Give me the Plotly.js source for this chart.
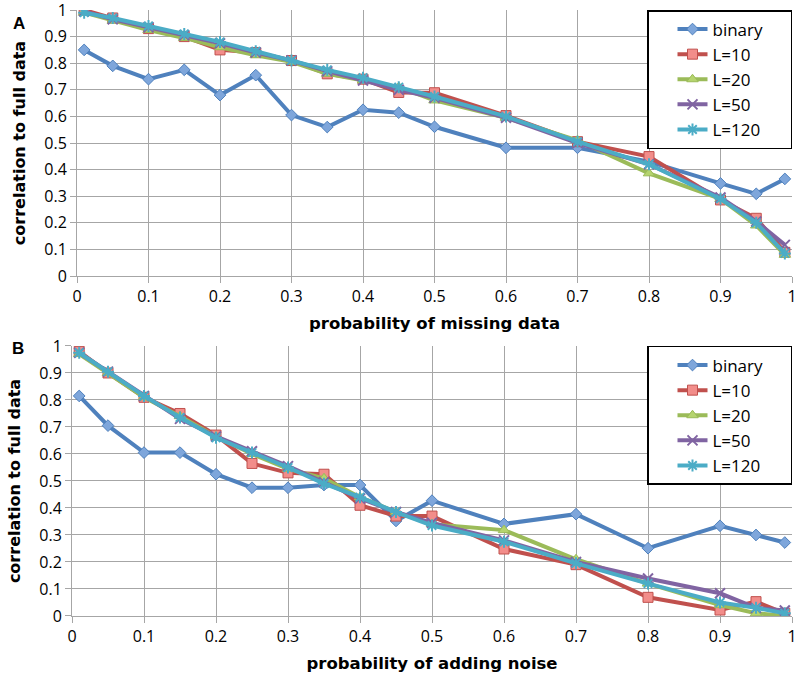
<!DOCTYPE html>
<html><head><meta charset="utf-8">
<script src="https://cdn.plot.ly/plotly-3.0.1.min.js"></script>
<style>body{margin:0;background:#fff}</style>
</head><body><div id="chart" style="width:800px;height:678px"></div>
<script>
const xVals = [0.01,0.05,0.1,0.15,0.2,0.25,0.3,0.35,0.4,0.45,0.5,0.6,0.7,0.8,0.9,0.95,0.99];
const seriesNames = ["binary","L=10","L=20","L=50","L=120"];
// Panel A: missing data
const aBinary = [0.85,0.79,0.74,0.775,0.68,0.755,0.605,0.56,0.625,0.614,0.561,0.482,0.482,0.43,0.348,0.309,0.365];
const aL10    = [1.0,0.97,0.93,0.90,0.85,0.84,0.81,0.76,0.74,0.69,0.689,0.603,0.505,0.449,0.286,0.217,0.089];
const aL20    = [0.99,0.96,0.925,0.895,0.86,0.83,0.805,0.76,0.735,0.71,0.66,0.595,0.51,0.386,0.29,0.19,0.08];
const aL50    = [0.995,0.965,0.935,0.905,0.875,0.84,0.81,0.77,0.735,0.70,0.67,0.595,0.50,0.42,0.295,0.205,0.117];
const aL120   = [0.99,0.97,0.94,0.91,0.88,0.845,0.81,0.775,0.745,0.71,0.675,0.60,0.505,0.42,0.29,0.20,0.085];
// Panel B: adding noise
const bBinary = [0.815,0.705,0.605,0.605,0.525,0.475,0.475,0.485,0.485,0.352,0.427,0.341,0.377,0.251,0.334,0.30,0.272];
const bL10    = [0.98,0.90,0.81,0.75,0.67,0.565,0.53,0.525,0.41,0.37,0.37,0.248,0.19,0.069,0.022,0.053,0.01];
const bL20    = [0.97,0.90,0.81,0.74,0.665,0.60,0.545,0.51,0.44,0.385,0.34,0.318,0.21,0.12,0.04,0.01,0.0];
const bL50    = [0.975,0.905,0.815,0.73,0.665,0.61,0.555,0.495,0.435,0.385,0.345,0.28,0.20,0.139,0.084,0.03,0.02];
const bL120   = [0.975,0.905,0.815,0.735,0.66,0.605,0.55,0.49,0.44,0.385,0.335,0.275,0.195,0.12,0.05,0.03,0.01];
const xTicks = [0,0.1,0.2,0.3,0.4,0.5,0.6,0.7,0.8,0.9,1];
const xTickText = ["0","0.1","0.2","0.3","0.4","0.5","0.6","0.7","0.8","0.9","1"];
const yTicks = [0,0.1,0.2,0.3,0.4,0.5,0.6,0.7,0.8,0.9,1];
const yTickText = ["0","0.1","0.2","0.3","0.4","0.5","0.6","0.7","0.8","0.9","1"];

const styles = [
  {line:'#4F81BD', fill:'#7EA6DB', symbol:'diamond', size:9},
  {line:'#C0504D', fill:'#F28D8A', symbol:'square', size:10},
  {line:'#9BBB59', fill:'#B5D46E', symbol:'triangle-up', size:10},
  {line:'#8064A2', fill:'#8064A2', symbol:'x-thin', size:10},
  {line:'#4BACC6', fill:'#4BACC6', symbol:'asterisk', size:10}
];
const pad = '\u00a0\u00a0\u00a0\u00a0\u00a0';
const panelA = [aBinary,aL10,aL20,aL50,aL120];
const panelB = [bBinary,bL10,bL20,bL50,bL120];
const traces = [];
function addPanel(data, xa, ya, leg){
  data.forEach((ys,i)=>{
    const s = styles[i];
    traces.push({
      x:xVals, y:ys, xaxis:xa, yaxis:ya, legend:leg, legendgroup:leg+i,
      type:'scatter', mode:'lines+markers', name:seriesNames[i]+pad,
      line:{color:s.line, width:4},
      marker:{symbol:s.symbol, size:s.size, color:s.fill, line:{color:s.line, width:(i>=3?2:1)}}
    });
  });
}
addPanel(panelA,'x','y','legend');
addPanel(panelB,'x2','y2','legend2');

const tickFont = {family:'Open Sans, sans-serif', size:16, color:'#000'};
const xTitleFont = {family:'DejaVu Sans, sans-serif', size:16.5, color:'#000', weight:'bold'};
const yTitleFont = {family:'DejaVu Sans, sans-serif', size:16, color:'#000', weight:'bold'};
function xax(domain, anchor, title){
  return {domain:domain, anchor:anchor, range:[0,1], tickmode:'array', tickvals:xTicks, ticktext:xTickText,
    showgrid:true, gridcolor:'#A6A6A6', gridwidth:1, zeroline:false, showline:true, linecolor:'#A6A6A6',
    ticks:'outside', ticklen:6, tickcolor:'#A6A6A6', tickfont:tickFont, ticklabeloverflow:'allow',
    title:{text:'<b>'+title+'</b>', font:xTitleFont, standoff:11}};
}
function yax(domain, anchor){
  return {domain:domain, anchor:anchor, range:[0,1], tickmode:'array', tickvals:yTicks, ticktext:yTickText,
    showgrid:true, gridcolor:'#A6A6A6', gridwidth:1, zeroline:false, showline:true, linecolor:'#A6A6A6',
    ticks:'outside', ticklen:6, tickcolor:'#A6A6A6', tickfont:tickFont, ticklabeloverflow:'allow',
    title:{text:'<b>correlation to full data</b>', font:yTitleFont, standoff:14}};
}
const legFont = {family:'Open Sans, sans-serif', size:17, color:'#000'};
function leg(top){
  return {x:0.99, xanchor:'right', y:top, yanchor:'top', bgcolor:'#fff', bordercolor:'#000', borderwidth:1.5,
    font:legFont, tracegroupgap:0, indentation:24, traceorder:'grouped'};
}
const layout = {
  width:800, height:678, margin:{l:0,r:0,t:0,b:0}, paper_bgcolor:'#fff', plot_bgcolor:'#fff',
  showlegend:true,
  xaxis: xax([0.09625,0.99],'y','probability of missing data'),
  yaxis: yax([0.5929,0.98525],'x'),
  xaxis2: xax([0.09,0.99],'y2','probability of adding noise'),
  yaxis2: yax([0.0915,0.4897],'x2'),
  legend: leg(0.98525),
  legend2: leg(0.4897),
  annotations:[
    {text:'<b>A</b>', x:11/800, y:1-12/678, xref:'paper', yref:'paper', showarrow:false, font:{family:'Liberation Sans, Arial', size:17, color:'#000'}},
    {text:'<b>B</b>', x:10/800, y:1-348/678, xref:'paper', yref:'paper', showarrow:false, font:{family:'Liberation Sans, Arial', size:17, color:'#000'}}
  ]
};
Plotly.newPlot('chart', traces, layout, {displayModeBar:false});
</script></body></html>
